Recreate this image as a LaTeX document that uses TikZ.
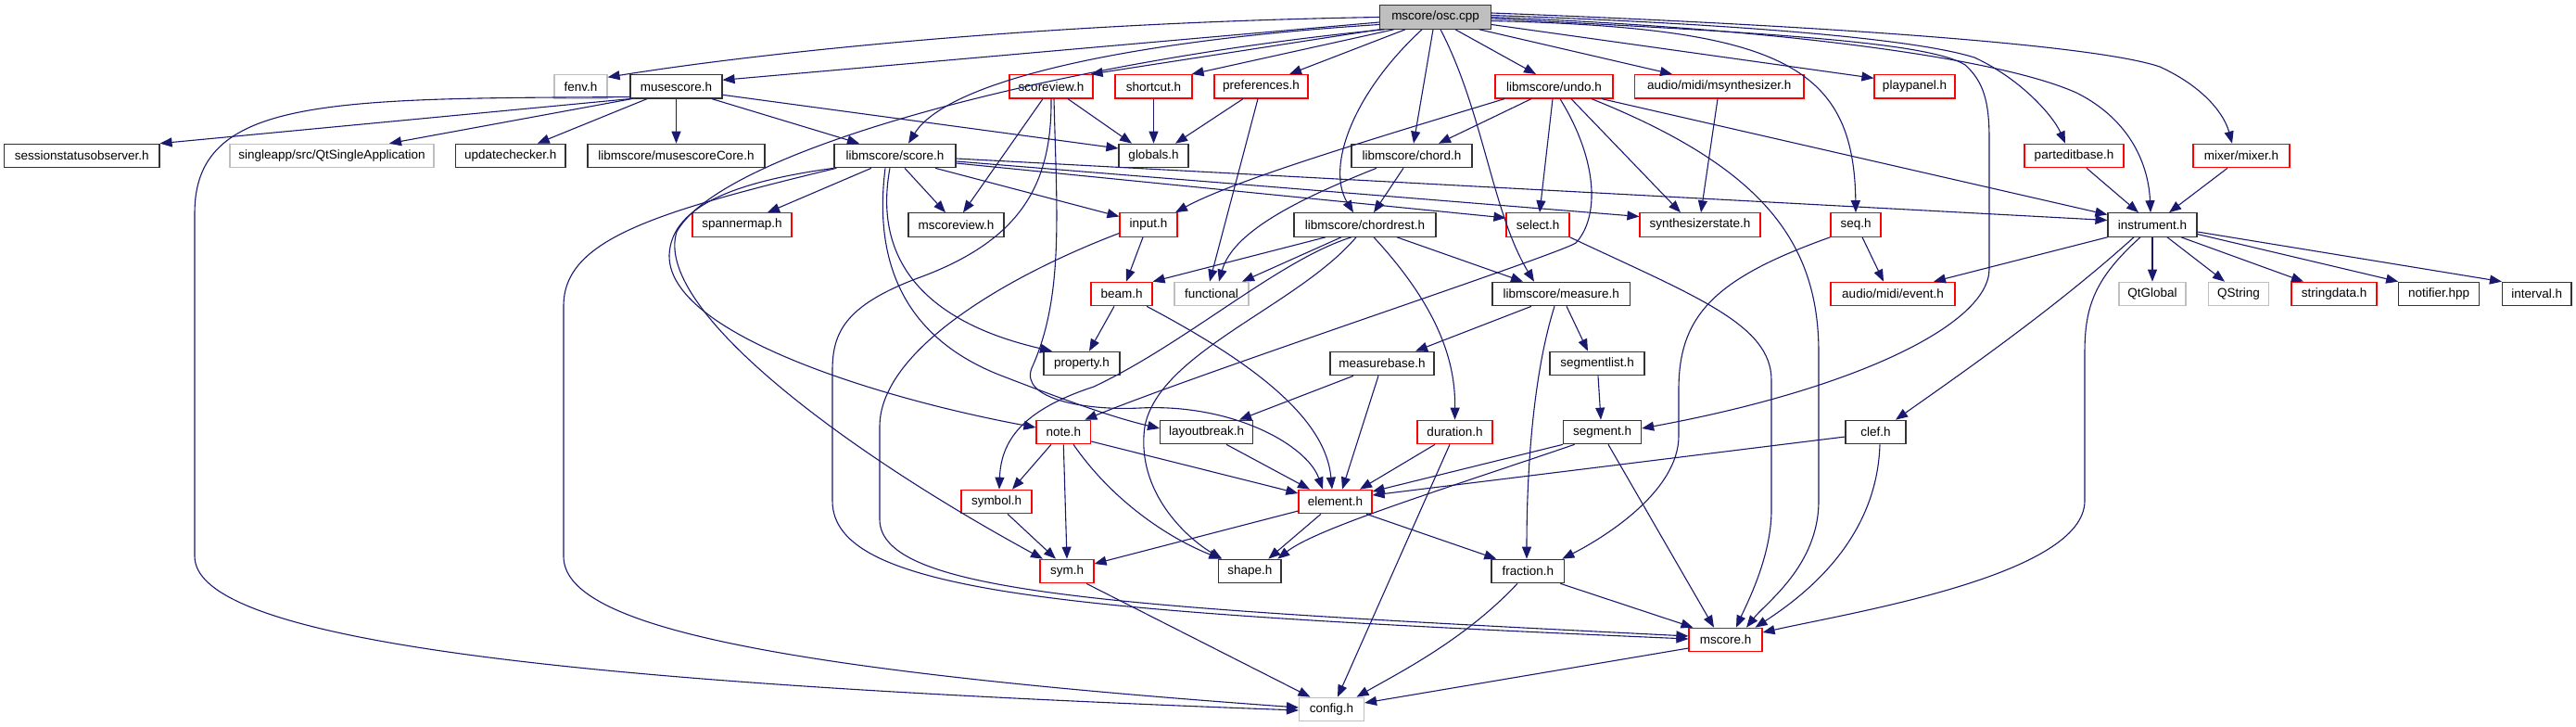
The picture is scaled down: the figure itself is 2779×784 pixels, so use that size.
\documentclass[tikz,border=0pt]{standalone}
\usepackage{fontspec}
\setmainfont{Liberation Sans}
\usetikzlibrary{arrows.meta}
\definecolor{edgeblue}{RGB}{25,25,112}
\definecolor{extgray}{RGB}{191,191,191}
\definecolor{trunc}{RGB}{255,0,0}
\begin{document}
\begin{tikzpicture}[x=1pt,y=-1pt,
  nb/.style={draw, rectangle, minimum height=25.5pt, inner xsep=3pt, inner ysep=0pt, line width=1.15pt, font=\fontsize{13.5}{16}\selectfont},
  blk/.style={nb, draw=black!80},
  trn/.style={nb, draw=trunc},
  ext/.style={nb, draw=extgray},
  root/.style={nb, draw=black!80, fill=extgray},
  e/.style={draw=edgeblue, line width=1.1pt, -{Triangle[length=13pt,width=10pt]}},
]
\useasboundingbox (0,0) rectangle (2779,784);

% nodes
\node[root, minimum width=120pt] (osc) at (1548.5,18.5) {mscore/osc.cpp};
\node[ext, minimum width=57pt] (fenv) at (626.5,93.3) {fenv.h};
\node[blk, minimum width=99pt] (musescore) at (729.5,93.3) {musescore.h};
\node[trn, minimum width=90pt] (scoreview) at (1134,93.3) {scoreview.h};
\node[trn, minimum width=83pt] (shortcut) at (1244.5,93.3) {shortcut.h};
\node[trn, minimum width=101pt] (preferences) at (1360.5,93.3) {preferences.h};
\node[trn, minimum width=127pt] (undo) at (1676.5,93.3) {libmscore/undo.h};
\node[trn, minimum width=182.5pt] (msynth) at (1854.75,93.3) {audio/midi/msynthesizer.h};
\node[trn, minimum width=87pt] (playpanel) at (2065.5,93.3) {playpanel.h};
\node[blk, minimum width=167.5pt] (sso) at (88.25,168) {sessionstatusobserver.h};
\node[ext, minimum width=220pt] (singleapp) at (358,168) {singleapp/src/QtSingleApplication};
\node[blk, minimum width=118.5pt] (updatechecker) at (550.75,168) {updatechecker.h};
\node[blk, minimum width=191pt] (msCore) at (729.5,168) {libmscore/musescoreCore.h};
\node[blk, minimum width=131pt] (score) at (965.5,168) {libmscore/score.h};
\node[blk, minimum width=75pt] (globals) at (1244.5,168) {globals.h};
\node[blk, minimum width=130pt] (chord) at (1523,168) {libmscore/chord.h};
\node[trn, minimum width=107pt] (parteditbase) at (2237.5,168) {parteditbase.h};
\node[trn, minimum width=104pt] (mixer) at (2418,168) {mixer/mixer.h};
\node[trn, minimum width=107pt] (spannermap) at (800.5,242.5) {spannermap.h};
\node[blk, minimum width=103pt] (mscoreview) at (1031.5,242.5) {mscoreview.h};
\node[trn, minimum width=62pt] (input) at (1239,242.5) {input.h};
\node[blk, minimum width=153pt] (chordrest) at (1472.5,242.5) {libmscore/chordrest.h};
\node[trn, minimum width=68pt] (select) at (1659,242.5) {select.h};
\node[trn, minimum width=130pt] (synthstate) at (1834,242.5) {synthesizerstate.h};
\node[trn, minimum width=54pt] (seq) at (2002,242.5) {seq.h};
\node[blk, minimum width=96pt] (instrument) at (2322,242.5) {instrument.h};
\node[trn, minimum width=66pt] (beam) at (1210,317) {beam.h};
\node[ext, minimum width=80pt] (functional) at (1307,317) {functional};
\node[blk, minimum width=148.6pt] (measure) at (1684.3,317) {libmscore/measure.h};
\node[trn, minimum width=134pt] (event) at (2042,317) {audio/midi/event.h};
\node[ext, minimum width=72pt] (qtglobal) at (2322,317) {QtGlobal};
\node[ext, minimum width=65.5pt] (qstring) at (2415,317) {QString};
\node[trn, minimum width=92pt] (stringdata) at (2518,317) {stringdata.h};
\node[blk, minimum width=86.5pt] (notifier) at (2631,317) {notifier.hpp};
\node[blk, minimum width=74.5pt] (interval) at (2736.75,317) {interval.h};
\node[blk, minimum width=82pt] (property) at (1167,392) {property.h};
\node[blk, minimum width=112pt] (measurebase) at (1491,392) {measurebase.h};
\node[blk, minimum width=102pt] (segmentlist) at (1723,392) {segmentlist.h};
\node[trn, minimum width=58.6pt] (note) at (1147.3,466) {note.h};
\node[blk, minimum width=100pt] (layoutbreak) at (1301.6,466) {layoutbreak.h};
\node[trn, minimum width=81pt] (duration) at (1569.5,466) {duration.h};
\node[blk, minimum width=84pt] (segment) at (1728.6,466) {segment.h};
\node[blk, minimum width=65pt] (clef) at (2023.5,466) {clef.h};
\node[trn, minimum width=76pt] (symbol) at (1075,541) {symbol.h};
\node[trn, minimum width=79pt] (element) at (1440.5,541) {element.h};
\node[trn, minimum width=58pt] (sym) at (1151,616) {sym.h};
\node[blk, minimum width=67.4pt] (shape) at (1348.3,616) {shape.h};
\node[blk, minimum width=78.6pt] (fraction) at (1648.3,616) {fraction.h};
\node[trn, minimum width=79pt] (mscore) at (1861.5,690) {mscore.h};
\node[ext, minimum width=70pt] (config) at (1436.5,765) {config.h};

% osc.cpp
\draw[e] (osc.west) .. controls (1100,25) and (800,60) .. ([yshift=10pt]fenv.east);
\draw[e] ([yshift=-5.5pt]osc.west) -- ([yshift=7pt]musescore.east);
\draw[e] (osc.south west) -- ([xshift=-3pt]scoreview.north east);
\draw[e] ([xshift=-45pt]osc.south) -- ([xshift=-1pt]shortcut.north east);
\draw[e] ([xshift=-32.5pt]osc.south) -- ([xshift=30.5pt]preferences.north);
\draw[e] ([yshift=-8pt]osc.west) .. controls (1200,45) and (1020,90) .. ([xshift=14.5pt]score.north);
\draw[e] ([xshift=-55pt]osc.south) .. controls (1150,65) and (780,160) .. (730,250) .. controls (705,330) and (900,480) .. ([xshift=-26pt]sym.north);
\draw[e] ([xshift=21.5pt]osc.south) -- ([xshift=-19.5pt]undo.north);
\draw[e] ([xshift=-2.5pt]osc.south) -- ([xshift=2pt]chord.north);
\draw[e] ([xshift=-14.5pt]osc.south) .. controls (1460,100) and (1430,180) .. ([xshift=-12.5pt]chordrest.north);
\draw[e] ([xshift=5.5pt]osc.south) .. controls (1600,120) and (1610,230) .. ([xshift=-29.3pt]measure.north);
\draw[e] ([xshift=47.5pt]osc.south) -- ([xshift=-50.75pt]msynth.north);
\draw[e] ([yshift=-8pt]osc.east) -- ([yshift=9pt]playpanel.west);
\draw[e] ([yshift=-4pt]osc.east) .. controls (1920,30) and (2000,70) .. (seq.north);
\draw[e] ([yshift=-1.5pt]osc.east) .. controls (1900,35) and (2080,45) .. (2120,70) .. controls (2140,88) and (2146,110) .. (2146,150) -- (2146,290) .. controls (2146,350) and (2000,420) .. ([yshift=4pt]segment.east);
\draw[e] ([yshift=2pt]osc.east) .. controls (1850,25) and (2060,40) .. (2130,62) .. controls (2180,85) and (2215,125) .. ([xshift=-9.5pt]parteditbase.north);
\draw[e] ([yshift=4.5pt]osc.east) .. controls (1900,25) and (2250,45) .. (2330,72) .. controls (2380,95) and (2400,125) .. ([xshift=-10pt]mixer.north);
\draw[e] (osc.east) .. controls (1900,30) and (2150,60) .. (2240,100) .. controls (2300,130) and (2318,180) .. ([xshift=-2pt]instrument.north);

% musescore.h
\draw[e] (musescore.south west) -- (sso.north east);
\draw[e] ([xshift=2pt]musescore.south west) -- ([xshift=62pt]singleapp.north);
\draw[e] ([xshift=-31.5pt]musescore.south) -- ([xshift=29pt]updatechecker.north);
\draw[e] (musescore.south) -- (msCore.north);
\draw[e] ([xshift=38.5pt]musescore.south) -- ([xshift=-38.5pt]score.north);
\draw[e] ([yshift=-9pt]musescore.east) -- ([yshift=8pt]globals.west);
\draw[e] ([yshift=2pt]musescore.south west) .. controls (350,106) and (210,106) .. (210,230) -- (210,600) .. controls (210,700) and (700,740) .. ([yshift=-1pt]config.west);

% score.h
\draw[e] ([xshift=-25.5pt]score.south) -- ([xshift=27.5pt]spannermap.north);
\draw[e] ([xshift=10.5pt]score.south) -- ([xshift=-11.5pt]mscoreview.north);
\draw[e] ([xshift=43.5pt]score.south) -- ([yshift=9pt]input.west);
\draw[e] ([xshift=-5.5pt]score.south) .. controls (940,290) and (1010,350) .. ([xshift=-32pt]property.north);
\draw[e] ([xshift=-10.5pt]score.south) .. controls (940,300) and (990,370) .. (1080,405) .. controls (1150,432) and (1200,450) .. ([yshift=4pt]layoutbreak.west);
\draw[e] (score.south west) .. controls (800,195) and (724,220) .. (722,275) .. controls (720,360) and (950,430) .. ([yshift=5pt]note.west);
\draw[e] ([xshift=3pt]score.south west) .. controls (700,230) and (608,260) .. (608,330) -- (608,600) .. controls (608,670) and (800,720) .. ([yshift=2pt]config.west);
\draw[e] ([yshift=-3pt]score.east) -- ([yshift=5pt]instrument.west);
\draw[e] ([yshift=-6pt]score.east) -- ([yshift=9pt]synthstate.west);
\draw[e] ([yshift=-8pt]score.east) -- ([yshift=7.5pt]select.west);

% scoreview.h
\draw[e] ([xshift=-9pt]scoreview.south) -- ([xshift=7.5pt]mscoreview.north);
\draw[e] ([xshift=18pt]scoreview.south) -- ([xshift=-23.5pt]globals.north);
\draw[e] (scoreview.south) .. controls (1135,200) and (1100,260) .. (990,300) .. controls (910,330) and (898,360) .. (898,400) -- (898,540) .. controls (898,640) and (1150,660) .. ([yshift=1pt]mscore.west);
\draw[e] ([xshift=3pt]scoreview.south) .. controls (1140,230) and (1148,320) .. (1113,397) .. controls (1100,430) and (1170,443) .. (1230,440) .. controls (1330,435) and (1410,480) .. ([xshift=-13.5pt]element.north);

% shortcut, preferences
\draw[e] (shortcut.south) -- (globals.north);
\draw[e] ([xshift=-19.5pt]preferences.south) -- ([xshift=23.5pt]globals.north);
\draw[e] ([xshift=-3.5pt]preferences.south) -- ([xshift=-2pt]functional.north);

% undo.h
\draw[e] ([xshift=-53.5pt]undo.south) .. controls (1480,150) and (1330,195) .. ([xshift=29pt]input.north);
\draw[e] ([xshift=-24.5pt]undo.south) -- ([xshift=29pt]chord.north);
\draw[e] ([xshift=-1.5pt]undo.south) -- ([xshift=2pt]select.north);
\draw[e] ([xshift=6.5pt]undo.south) .. controls (1725,175) and (1725,235) .. (1700,262) .. controls (1680,275) and (1300,400) .. ([xshift=23pt]note.north);
\draw[e] ([xshift=18.5pt]undo.south) -- ([xshift=-21pt]synthstate.north);
\draw[e] ([xshift=40.5pt]undo.south) .. controls (1900,180) and (1962,260) .. (1962,380) -- (1962,540) .. controls (1962,610) and (1905,650) .. ([xshift=22.5pt]mscore.north);
\draw[e] ([xshift=51.5pt]undo.south) -- ([yshift=11pt]instrument.west);

% msynthesizer
\draw[e] ([xshift=-1.75pt]msynth.south) -- ([xshift=1pt]synthstate.north);

% chord.h
\draw[e] ([xshift=-9pt]chord.south) -- ([xshift=9.5pt]chordrest.north);
\draw[e] ([xshift=-38pt]chord.south) .. controls (1400,215) and (1330,250) .. ([xshift=8pt]functional.north);

% chordrest.h
\draw[e] ([xshift=-42.5pt]chordrest.south) -- (beam.north east);
\draw[e] ([xshift=-25.5pt]chordrest.south) -- ([xshift=33pt]functional.north);
\draw[e] ([xshift=-14.5pt]chordrest.south) .. controls (1380,280) and (1280,370) .. (1180,417) .. controls (1110,440) and (1080,470) .. ([xshift=3pt]symbol.north);
\draw[e] ([xshift=-9.5pt]chordrest.south) .. controls (1400,330) and (1250,380) .. (1235,460) .. controls (1225,530) and (1280,580) .. ([xshift=-30pt]shape.north);
\draw[e] ([xshift=9.5pt]chordrest.south) .. controls (1560,340) and (1570,400) .. (duration.north);
\draw[e] ([xshift=34.5pt]chordrest.south) -- ([xshift=-41.3pt]measure.north);

% select.h
\draw[e] (select.south east) .. controls (1830,320) and (1911,350) .. (1911,410) -- (1911,550) .. controls (1911,600) and (1885,650) .. ([xshift=11.5pt]mscore.north);

% seq.h
\draw[e] ([xshift=7pt]seq.south) -- ([xshift=-10pt]event.north);
\draw[e] (seq.south west) .. controls (1850,300) and (1811,340) .. (1811,420) -- (1811,470) .. controls (1811,530) and (1730,580) .. ([xshift=37pt]fraction.north);

% instrument.h
\draw[e] (instrument.south west) -- ([xshift=44pt]event.north);
\draw[e] (instrument.south) -- (qtglobal.north);
\draw[e] ([xshift=16pt]instrument.south) -- ([xshift=-15pt]qstring.north);
\draw[e] ([xshift=31pt]instrument.south) -- ([xshift=-33pt]stringdata.north);
\draw[e] ([yshift=-10pt]instrument.east) -- (notifier.north west);
\draw[e] ([yshift=-7.5pt]instrument.east) -- (interval.north west);
\draw[e] ([xshift=-20pt]instrument.south) .. controls (2220,330) and (2120,400) .. ([xshift=21.5pt]clef.north);
\draw[e] ([xshift=-13pt]instrument.south) .. controls (2260,300) and (2249,330) .. (2249,380) -- (2249,540) .. controls (2249,620) and (2000,660) .. ([yshift=8pt]mscore.east);

% parteditbase, mixer
\draw[e] ([xshift=13.5pt]parteditbase.south) -- ([xshift=-15pt]instrument.north);
\draw[e] ([xshift=-15pt]mixer.south) -- ([xshift=18pt]instrument.north);

% input.h
\draw[e] ([xshift=-6pt]input.south) -- ([xshift=5pt]beam.north);
\draw[e] ([yshift=-9pt]input.west) .. controls (1080,300) and (949,380) .. (949,460) -- (949,560) .. controls (949,640) and (1200,655) .. ([yshift=4pt]mscore.west);

% beam.h
\draw[e] ([xshift=-8pt]beam.south) -- ([xshift=8pt]property.north);
\draw[e] ([xshift=27pt]beam.south) .. controls (1350,390) and (1430,450) .. ([xshift=-3.5pt]element.north);

% measure.h
\draw[e] ([xshift=-32.3pt]measure.south) -- ([xshift=36pt]measurebase.north);
\draw[e] ([xshift=5.7pt]measure.south) -- ([xshift=-10pt]segmentlist.north);
\draw[e] ([xshift=-7.3pt]measure.south) .. controls (1655,400) and (1647,500) .. ([xshift=-1.3pt]fraction.north);

% measurebase.h
\draw[e] ([xshift=-31pt]measurebase.south) -- ([xshift=35.4pt]layoutbreak.north);
\draw[e] ([xshift=-4pt]measurebase.south) -- ([xshift=7.5pt]element.north);

% segmentlist.h
\draw[e] ([xshift=1pt]segmentlist.south) -- ([xshift=-1.6pt]segment.north);

% note.h
\draw[e] ([xshift=-13.3pt]note.south) -- ([xshift=17pt]symbol.north);
\draw[e] (note.south) -- (sym.north);
\draw[e] ([xshift=10.7pt]note.south) .. controls (1200,540) and (1260,580) .. ([xshift=-31pt]shape.north);
\draw[e] ([yshift=-10pt]note.east) -- ([yshift=9pt]element.west);

% layoutbreak.h
\draw[e] ([xshift=21.4pt]layoutbreak.south) -- ([xshift=-27.5pt]element.north);

% duration.h
\draw[e] ([xshift=-21.5pt]duration.south) -- ([xshift=26.5pt]element.north);
\draw[e] ([xshift=-5.5pt]duration.south) -- ([xshift=6.5pt]config.north);

% segment.h
\draw[e] (segment.south west) -- ([yshift=11pt]element.east);
\draw[e] ([xshift=-30pt]segment.south) .. controls (1550,530) and (1420,570) .. ([xshift=30pt]shape.north);
\draw[e] ([xshift=6.4pt]segment.south) -- ([xshift=-12.5pt]mscore.north);

% clef.h
\draw[e] ([yshift=-5pt]clef.west) -- ([yshift=7pt]element.east);
\draw[e] ([xshift=4.5pt]clef.south) .. controls (2025,580) and (1950,640) .. ([xshift=32pt]mscore.north);

% element.h
\draw[e] ([yshift=-10pt]element.west) -- ([yshift=8pt]sym.east);
\draw[e] ([xshift=-15.5pt]element.south) -- ([xshift=20pt]shape.north);
\draw[e] ([xshift=33.5pt]element.south) -- ([xshift=-34pt]fraction.north);

% symbol.h, sym.h
\draw[e] ([xshift=12pt]symbol.south) -- ([xshift=-12pt]sym.north);
\draw[e] ([xshift=21pt]sym.south) -- ([xshift=-23pt]config.north);

% fraction.h, mscore.h
\draw[e] ([xshift=35pt]fraction.south) -- ([xshift=-35pt]mscore.north);
\draw[e] ([xshift=-11.3pt]fraction.south) .. controls (1580,690) and (1510,725) .. ([xshift=27pt]config.north);
\draw[e] ([yshift=-9pt]mscore.west) -- ([yshift=7pt]config.east);
\end{tikzpicture}
\end{document}
